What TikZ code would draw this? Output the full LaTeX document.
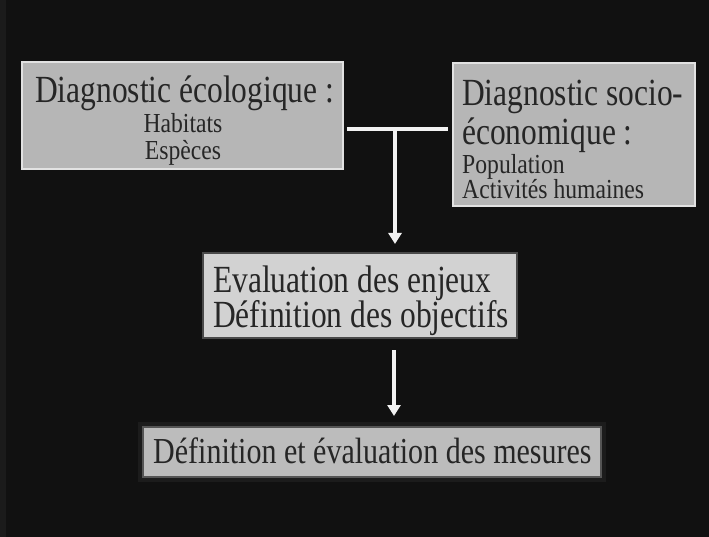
\documentclass[tikz,border=0pt]{standalone}
\usepackage{fontspec}
\setmainfont{Liberation Serif}[FakeStretch=0.82]
\newfontfamily\smallserif{Liberation Serif}[FakeStretch=0.86]
\usetikzlibrary{arrows.meta}
\definecolor{bg}{HTML}{111111}
\definecolor{strip}{HTML}{1B1B1B}
\definecolor{halo}{HTML}{1C1C1C}
\definecolor{boxA}{HTML}{B6B6B6}
\definecolor{boxAedge}{HTML}{E2E2E2}
\definecolor{boxB}{HTML}{D2D2D2}
\definecolor{boxBedge}{HTML}{4A4A4A}
\definecolor{boxC}{HTML}{BCBCBC}
\definecolor{boxCedge}{HTML}{555555}
\definecolor{txt}{HTML}{262626}
\definecolor{wire}{HTML}{F2F2F2}
\begin{document}
\begin{tikzpicture}[x=1pt,y=-1pt,
  panel/.style={anchor=north west, inner sep=0pt, outer sep=0pt},
  lightbox/.style={panel, fill=boxA, draw=boxAedge, line width=1.2pt},
  midbox/.style={panel, fill=boxB, draw=boxBedge, line width=2pt},
  lowbox/.style={panel, fill=boxC, draw=boxCedge, line width=2pt},
  bigtxt/.style={anchor=base west, inner sep=0pt, text=txt, font=\fontsize{38.4}{42}\selectfont},
  smalltxt/.style={anchor=base west, inner sep=0pt, text=txt, font=\smallserif\fontsize{27.5}{30}\selectfont},
  wirel/.style={draw=wire, line width=3.5pt},
  arrowl/.style={draw=wire, line width=3.5pt, -{Triangle[width=13pt,length=11pt]}}
]
\useasboundingbox (0,0) rectangle (709,537);
\fill[bg] (0,0) rectangle (709,537);
\fill[strip] (0,0) rectangle (6,537);

% boxes
\node[lightbox, minimum width=321pt, minimum height=107pt] (eco) at (22,62) {};
\node[lightbox, minimum width=242pt, minimum height=143pt] (soc) at (453,63) {};
\node[midbox, minimum width=314pt, minimum height=85pt] (eval) at (203,253) {};
\node[draw=halo, line width=5pt, panel, minimum width=463pt, minimum height=55pt] (glow) at (140.5,424.5) {};
\node[lowbox, minimum width=458pt, minimum height=50pt] (mes) at (143,427) {};

% texts
\node[bigtxt] (ecoA) at (35,103) {Diagnostic écologique :};
\node[smalltxt, anchor=base] (ecoB) at (183,133) {Habitats};
\node[smalltxt, anchor=base] (ecoC) at (183,160) {Espèces};

\node[bigtxt] (socA) at (462,106) {Diagnostic socio-};
\node[bigtxt] (socB) at (462,145) {économique :};
\node[smalltxt] (socC) at (462,174) {Population};
\node[smalltxt] (socD) at (462,199) {Activités humaines};

\node[bigtxt] (evalA) at (213,292) {Evaluation des enjeux};
\node[bigtxt] (evalB) at (213,327) {Définition des objectifs};

\node[bigtxt, font=\fontsize{36.6}{40}\selectfont] (mesA) at (153,463) {Définition et évaluation des mesures};

% connectors
\coordinate (jL) at (347,129);
\coordinate (jR) at (448,129);
\coordinate (jM) at (395,129);
\coordinate (aTip) at (395,244);
\coordinate (bTop) at (394,350);
\coordinate (bTip) at (394,416);
\path[wirel] (jL) -- (jR);
\path[arrowl] ([yshift=-1.75pt]jM) -- (aTip);
\path[arrowl] (bTop) -- (bTip);
\end{tikzpicture}
\end{document}
